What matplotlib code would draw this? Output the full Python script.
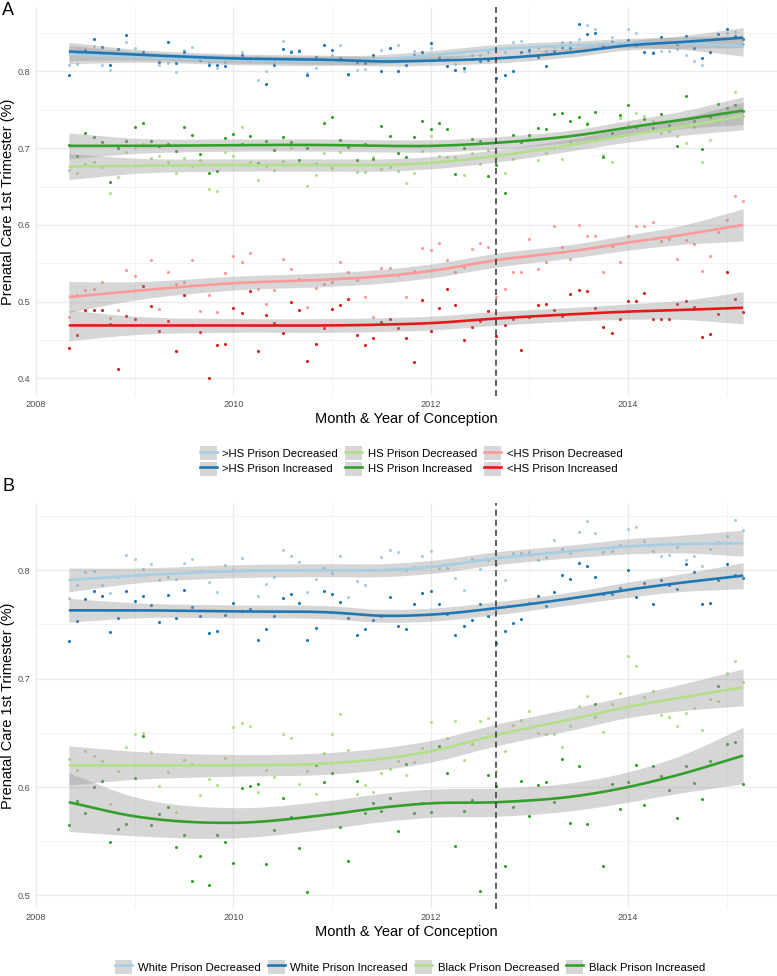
"""Prenatal care in the 1st trimester by month of conception, split by prison-admission change."""

import matplotlib

matplotlib.use("Agg")
import matplotlib.pyplot as plt
import numpy as np
from matplotlib.legend_handler import HandlerTuple
from matplotlib.lines import Line2D
from matplotlib.patches import Patch

FIG_W, FIG_H = 777, 976
DPI = 100

# monthly conception dates, May 2008 .. Mar 2015
START_YEAR = 2008 + 4 / 12
N_MONTHS = 83
POLICY_DATE = 2012 + 8 / 12

LIGHT_BLUE, DARK_BLUE = "#A6CEE3", "#1F78B4"
LIGHT_GREEN, DARK_GREEN = "#B2DF8A", "#33A02C"
LIGHT_RED, DARK_RED = "#FB9A99", "#E31A1C"
BAND = "#999999"
KEY_FILL = "#D6D6D6"

# ---- panel A: education groups (monthly points) ----
a_gt_hs_dec = [
    0.808, 0.810, 0.828, 0.833, 0.809, 0.802, 0.822, 0.838, 0.830, 0.823,
    0.822, 0.808, 0.811, 0.799, 0.828, 0.832, 0.815, 0.811, 0.804, 0.812,
    0.819, 0.825, 0.817, 0.789, 0.800, 0.812, 0.840, 0.827, 0.828, 0.798,
    0.804, 0.816, 0.822, 0.835, 0.795, 0.802, 0.803, 0.818, 0.828, 0.831,
    0.835, 0.819, 0.827, 0.822, 0.831, 0.820, 0.816, 0.810, 0.800, 0.821,
    0.821, 0.826, 0.818, 0.826, 0.838, 0.840, 0.826, 0.830, 0.827, 0.832,
    0.838, 0.838, 0.842, 0.861, 0.855, 0.832, 0.845, 0.836, 0.855, 0.850,
    0.838, 0.825, 0.827, 0.827, 0.829, 0.821, 0.813, 0.808, 0.826, 0.834,
    0.850, 0.851, 0.836,
]
a_gt_hs_inc = [
    0.795, 0.823, 0.828, 0.842, 0.832, 0.809, 0.829, 0.847, 0.820, 0.825,
    0.821, 0.812, 0.838, 0.811, 0.826, 0.818, 0.815, 0.809, 0.809, 0.807,
    0.817, 0.821, 0.815, 0.818, 0.784, 0.808, 0.829, 0.826, 0.827, 0.795,
    0.819, 0.834, 0.828, 0.818, 0.797, 0.812, 0.811, 0.821, 0.800, 0.830,
    0.801, 0.808, 0.822, 0.825, 0.837, 0.818, 0.807, 0.802, 0.805, 0.816,
    0.814, 0.815, 0.792, 0.796, 0.800, 0.825, 0.828, 0.819, 0.807, 0.827,
    0.832, 0.830, 0.862, 0.849, 0.850, 0.833, 0.838, 0.836, 0.841, 0.835,
    0.825, 0.824, 0.845, 0.838, 0.836, 0.846, 0.830, 0.818, 0.825, 0.849,
    0.855, 0.846, 0.842,
]
a_hs_dec = [
    0.671, 0.668, 0.680, 0.682, 0.676, 0.642, 0.663, 0.695, 0.700, 0.706,
    0.687, 0.690, 0.682, 0.667, 0.687, 0.677, 0.684, 0.647, 0.644, 0.695,
    0.690, 0.727, 0.682, 0.659, 0.677, 0.671, 0.683, 0.700, 0.680, 0.651,
    0.665, 0.694, 0.674, 0.695, 0.702, 0.669, 0.669, 0.688, 0.673, 0.675,
    0.670, 0.654, 0.668, 0.696, 0.716, 0.690, 0.688, 0.688, 0.665, 0.694,
    0.680, 0.697, 0.688, 0.668, 0.686, 0.709, 0.716, 0.685, 0.694, 0.700,
    0.686, 0.708, 0.707, 0.733, 0.712, 0.691, 0.682, 0.739, 0.730, 0.746,
    0.742, 0.736, 0.720, 0.722, 0.716, 0.707, 0.728, 0.682, 0.711, 0.735,
    0.745, 0.773, 0.742,
]
a_hs_inc = [
    0.704, 0.690, 0.720, 0.714, 0.708, 0.656, 0.700, 0.710, 0.728, 0.733,
    0.710, 0.703, 0.706, 0.696, 0.727, 0.717, 0.693, 0.668, 0.670, 0.713,
    0.719, 0.705, 0.716, 0.681, 0.710, 0.697, 0.714, 0.708, 0.685, 0.700,
    0.680, 0.733, 0.741, 0.711, 0.702, 0.684, 0.705, 0.686, 0.729, 0.716,
    0.694, 0.689, 0.715, 0.735, 0.725, 0.733, 0.725, 0.666, 0.700, 0.712,
    0.709, 0.664, 0.678, 0.642, 0.717, 0.708, 0.717, 0.726, 0.725, 0.745,
    0.746, 0.736, 0.740, 0.731, 0.747, 0.688, 0.720, 0.743, 0.756, 0.727,
    0.738, 0.726, 0.745, 0.730, 0.703, 0.768, 0.735, 0.699, 0.740, 0.758,
    0.753, 0.756, 0.748,
]
a_lt_hs_dec = [
    0.480, 0.509, 0.515, 0.516, 0.525, 0.479, 0.489, 0.541, 0.534, 0.521,
    0.554, 0.490, 0.538, 0.523, 0.525, 0.554, 0.488, 0.508, 0.487, 0.537,
    0.560, 0.552, 0.564, 0.516, 0.497, 0.515, 0.555, 0.542, 0.530, 0.493,
    0.518, 0.523, 0.525, 0.551, 0.539, 0.528, 0.506, 0.480, 0.544, 0.544,
    0.535, 0.506, 0.540, 0.570, 0.567, 0.577, 0.554, 0.538, 0.545, 0.568,
    0.576, 0.571, 0.506, 0.516, 0.538, 0.539, 0.582, 0.543, 0.552, 0.598,
    0.571, 0.555, 0.600, 0.585, 0.585, 0.538, 0.573, 0.552, 0.585, 0.599,
    0.599, 0.604, 0.579, 0.581, 0.555, 0.580, 0.575, 0.540, 0.559, 0.591,
    0.606, 0.638, 0.631,
]
a_lt_hs_inc = [
    0.440, 0.457, 0.489, 0.489, 0.489, 0.471, 0.412, 0.481, 0.478, 0.520,
    0.494, 0.462, 0.475, 0.435, 0.509, 0.470, 0.461, 0.400, 0.444, 0.445,
    0.492, 0.485, 0.514, 0.436, 0.482, 0.472, 0.459, 0.500, 0.489, 0.422,
    0.445, 0.466, 0.491, 0.495, 0.503, 0.456, 0.443, 0.453, 0.473, 0.478,
    0.465, 0.453, 0.421, 0.502, 0.462, 0.492, 0.516, 0.495, 0.450, 0.467,
    0.475, 0.488, 0.455, 0.469, 0.477, 0.437, 0.480, 0.495, 0.497, 0.489,
    0.481, 0.510, 0.515, 0.514, 0.492, 0.467, 0.459, 0.478, 0.501, 0.501,
    0.511, 0.477, 0.477, 0.478, 0.497, 0.501, 0.493, 0.454, 0.458, 0.484,
    0.538, 0.503, 0.487,
]

# ---- panel B: race groups (monthly points) ----
b_white_dec = [
    0.774, 0.786, 0.798, 0.799, 0.786, 0.779, 0.794, 0.814, 0.810, 0.801,
    0.806, 0.791, 0.794, 0.792, 0.807, 0.810, 0.799, 0.789, 0.780, 0.805,
    0.800, 0.811, 0.800, 0.776, 0.787, 0.794, 0.819, 0.813, 0.808, 0.780,
    0.792, 0.802, 0.797, 0.813, 0.775, 0.790, 0.786, 0.800, 0.812, 0.819,
    0.817, 0.800, 0.803, 0.813, 0.818, 0.802, 0.802, 0.793, 0.782, 0.810,
    0.801, 0.809, 0.805, 0.791, 0.816, 0.816, 0.817, 0.809, 0.812, 0.828,
    0.820, 0.816, 0.835, 0.845, 0.834, 0.817, 0.818, 0.823, 0.838, 0.840,
    0.827, 0.818, 0.813, 0.814, 0.821, 0.809, 0.813, 0.804, 0.820, 0.826,
    0.832, 0.846, 0.837,
]
b_white_inc = [
    0.735, 0.753, 0.773, 0.781, 0.776, 0.743, 0.756, 0.781, 0.772, 0.776,
    0.768, 0.752, 0.777, 0.756, 0.782, 0.766, 0.758, 0.742, 0.744, 0.759,
    0.770, 0.762, 0.764, 0.736, 0.746, 0.758, 0.774, 0.778, 0.770, 0.736,
    0.747, 0.781, 0.778, 0.771, 0.756, 0.740, 0.746, 0.754, 0.758, 0.775,
    0.749, 0.746, 0.769, 0.779, 0.781, 0.769, 0.760, 0.740, 0.749, 0.754,
    0.769, 0.758, 0.733, 0.744, 0.751, 0.755, 0.770, 0.776, 0.767, 0.780,
    0.796, 0.792, 0.807, 0.804, 0.794, 0.778, 0.778, 0.784, 0.800, 0.775,
    0.788, 0.769, 0.791, 0.786, 0.783, 0.806, 0.798, 0.769, 0.770, 0.791,
    0.806, 0.796, 0.793,
]
b_black_dec = [
    0.626, 0.616, 0.633, 0.629, 0.624, 0.584, 0.615, 0.637, 0.649, 0.650,
    0.632, 0.601, 0.614, 0.577, 0.625, 0.621, 0.593, 0.607, 0.602, 0.627,
    0.655, 0.659, 0.656, 0.595, 0.616, 0.609, 0.649, 0.645, 0.603, 0.615,
    0.594, 0.631, 0.649, 0.667, 0.634, 0.594, 0.602, 0.595, 0.613, 0.617,
    0.624, 0.611, 0.623, 0.636, 0.660, 0.637, 0.645, 0.661, 0.625, 0.640,
    0.661, 0.664, 0.615, 0.633, 0.657, 0.662, 0.670, 0.650, 0.649, 0.649,
    0.637, 0.656, 0.675, 0.684, 0.665, 0.651, 0.677, 0.687, 0.721, 0.712,
    0.683, 0.689, 0.666, 0.665, 0.656, 0.668, 0.673, 0.653, 0.681, 0.679,
    0.705, 0.716, 0.697,
]
b_black_inc = [
    0.565, 0.587, 0.576, 0.600, 0.606, 0.549, 0.561, 0.566, 0.608, 0.647,
    0.565, 0.575, 0.582, 0.545, 0.556, 0.513, 0.536, 0.510, 0.556, 0.549,
    0.530, 0.599, 0.601, 0.603, 0.529, 0.560, 0.590, 0.572, 0.544, 0.503,
    0.620, 0.605, 0.613, 0.563, 0.532, 0.606, 0.576, 0.585, 0.578, 0.590,
    0.559, 0.621, 0.576, 0.585, 0.577, 0.638, 0.613, 0.546, 0.578, 0.588,
    0.504, 0.611, 0.601, 0.527, 0.582, 0.606, 0.573, 0.602, 0.605, 0.586,
    0.626, 0.567, 0.619, 0.566, 0.677, 0.527, 0.603, 0.580, 0.605, 0.620,
    0.583, 0.619, 0.610, 0.597, 0.571, 0.619, 0.604, 0.589, 0.624, 0.693,
    0.640, 0.642, 0.603,
]

# ---- loess fits: knot years, fitted value, CI half-width ----
FIT_YEARS = [2008.333, 2009.0, 2010.0, 2011.0, 2011.5, 2012.0, 2012.667,
             2013.5, 2014.0, 2014.5, 2015.167]

fit_a_gt_hs_dec = [0.822, 0.819, 0.815, 0.814, 0.816, 0.821, 0.829, 0.834, 0.837, 0.837, 0.833]
fit_a_gt_hs_inc = [0.826, 0.822, 0.817, 0.815, 0.813, 0.814, 0.817, 0.826, 0.834, 0.838, 0.844]
fit_a_hs_dec = [0.676, 0.677, 0.678, 0.678, 0.678, 0.681, 0.690, 0.706, 0.717, 0.727, 0.742]
fit_a_hs_inc = [0.703, 0.703, 0.704, 0.704, 0.703, 0.703, 0.707, 0.717, 0.727, 0.736, 0.749]
fit_a_lt_hs_dec = [0.506, 0.514, 0.524, 0.529, 0.533, 0.540, 0.554, 0.567, 0.577, 0.586, 0.600]
fit_a_lt_hs_inc = [0.469, 0.469, 0.469, 0.469, 0.470, 0.472, 0.478, 0.484, 0.487, 0.489, 0.492]

se_a_blue = [0.012, 0.007, 0.006, 0.006, 0.006, 0.006, 0.006, 0.006, 0.006, 0.008, 0.013]
se_a_green = [0.017, 0.010, 0.008, 0.008, 0.008, 0.008, 0.008, 0.008, 0.009, 0.011, 0.018]
se_a_red = [0.020, 0.012, 0.009, 0.009, 0.009, 0.009, 0.009, 0.009, 0.010, 0.012, 0.021]

fit_b_white_dec = [0.791, 0.795, 0.799, 0.800, 0.800, 0.803, 0.811, 0.818, 0.822, 0.824, 0.825]
fit_b_white_inc = [0.763, 0.763, 0.762, 0.761, 0.758, 0.759, 0.765, 0.775, 0.782, 0.788, 0.795]
fit_b_black_dec = [0.620, 0.620, 0.620, 0.622, 0.626, 0.633, 0.648, 0.664, 0.674, 0.682, 0.692]
fit_b_black_inc = [0.586, 0.573, 0.567, 0.575, 0.581, 0.585, 0.586, 0.592, 0.600, 0.611, 0.629]

se_b_white = [0.011, 0.007, 0.006, 0.006, 0.006, 0.006, 0.006, 0.006, 0.007, 0.008, 0.012]
se_b_black_dec = [0.018, 0.013, 0.010, 0.010, 0.010, 0.010, 0.010, 0.010, 0.010, 0.012, 0.017]
se_b_black_inc = [0.027, 0.018, 0.014, 0.013, 0.013, 0.013, 0.013, 0.013, 0.014, 0.017, 0.026]

LABELS_A = [">HS Prison Decreased", ">HS Prison Increased", "HS Prison Decreased",
            "HS Prison Increased", "<HS Prison Decreased", "<HS Prison Increased"]
LABELS_B = ["White Prison Decreased", "White Prison Increased",
            "Black Prison Decreased", "Black Prison Increased"]

XTICKS = [2008, 2010, 2012, 2014]
XMINOR = [2009, 2011, 2013, 2015]


def px_box(left, top, right, bottom):
    """Axes rectangle from pixel edges (top-left origin)."""
    return [left / FIG_W, 1 - bottom / FIG_H, (right - left) / FIG_W, (bottom - top) / FIG_H]


def hermite(xk, yk, n=240):
    """Smooth cubic curve through the fit knots, only for drawing."""
    xk = np.asarray(xk, float)
    yk = np.asarray(yk, float)
    slopes = np.gradient(yk, xk)
    x = np.linspace(xk[0], xk[-1], n)
    i = np.clip(np.searchsorted(xk, x, side="right") - 1, 0, len(xk) - 2)
    h = xk[i + 1] - xk[i]
    t = (x - xk[i]) / h
    h00 = 2 * t**3 - 3 * t**2 + 1
    h10 = t**3 - 2 * t**2 + t
    h01 = -2 * t**3 + 3 * t**2
    h11 = t**3 - t**2
    y = h00 * yk[i] + h10 * h * slopes[i] + h01 * yk[i + 1] + h11 * h * slopes[i + 1]
    return x, y


def style_axes(ax, ylim, yticks, yminor):
    ax.set_xlim(2007.99, 2015.51)
    ax.set_ylim(*ylim)
    ax.set_xticks(XTICKS)
    ax.set_xticks(XMINOR, minor=True)
    ax.set_yticks(yticks)
    ax.set_yticks(yminor, minor=True)
    ax.set_xticklabels([str(t) for t in XTICKS])
    ax.set_yticklabels([f"{t:g}" for t in yticks])
    ax.grid(which="major", color="#EBEBEB", lw=1.0)
    ax.grid(which="minor", color="#F0F0F0", lw=0.55)
    ax.set_axisbelow(True)
    for spine in ax.spines.values():
        spine.set_visible(False)
    ax.tick_params(which="both", length=0, labelsize=6.6, labelcolor="#4D4D4D")
    ax.tick_params(axis="x", pad=3.2)
    ax.tick_params(axis="y", pad=3.5)
    ax.axvline(POLICY_DATE, color="#333333", lw=1.1, ls=(0, (4, 2.6)), zorder=6)


def draw_panel(ax, series):
    months = START_YEAR + np.arange(N_MONTHS) / 12
    for _, color, pts, _, _ in series:
        ax.scatter(months, pts, s=5, color=color, linewidths=0, zorder=2)
    for _, color, _, fit, se in series:
        xs, ys = hermite(FIT_YEARS, fit)
        _, es = hermite(FIT_YEARS, se)
        ax.fill_between(xs, ys - es, ys + es, color=BAND, alpha=0.4,
                        linewidth=0, zorder=3)
        ax.plot(xs, ys, color=color, lw=1.9, solid_capstyle="butt", zorder=4)


def add_legend(fig, series, ncol, center):
    handles = [(Patch(facecolor=KEY_FILL, edgecolor="none"), Line2D([], [], color=c, lw=1.9))
               for _, c, _, _, _ in series]
    labels = [s[0] for s in series]
    fig.legend(handles, labels, loc="center",
               bbox_to_anchor=(center[0] / FIG_W, 1 - center[1] / FIG_H),
               ncol=ncol, frameon=False, fontsize=8.2, borderpad=0,
               handlelength=1.5, handleheight=1.5, handletextpad=0.5,
               columnspacing=0.6, labelspacing=0.12,
               handler_map={tuple: HandlerTuple(ndivide=1)})


def main() -> None:
    plt.rcParams["font.family"] = ["Liberation Sans", "DejaVu Sans"]

    series_a = [
        (LABELS_A[0], LIGHT_BLUE, a_gt_hs_dec, fit_a_gt_hs_dec, se_a_blue),
        (LABELS_A[1], DARK_BLUE, a_gt_hs_inc, fit_a_gt_hs_inc, se_a_blue),
        (LABELS_A[2], LIGHT_GREEN, a_hs_dec, fit_a_hs_dec, se_a_green),
        (LABELS_A[3], DARK_GREEN, a_hs_inc, fit_a_hs_inc, se_a_green),
        (LABELS_A[4], LIGHT_RED, a_lt_hs_dec, fit_a_lt_hs_dec, se_a_red),
        (LABELS_A[5], DARK_RED, a_lt_hs_inc, fit_a_lt_hs_inc, se_a_red),
    ]
    series_b = [
        (LABELS_B[0], LIGHT_BLUE, b_white_dec, fit_b_white_dec, se_b_white),
        (LABELS_B[1], DARK_BLUE, b_white_inc, fit_b_white_inc, se_b_white),
        (LABELS_B[2], LIGHT_GREEN, b_black_dec, fit_b_black_dec, se_b_black_dec),
        (LABELS_B[3], DARK_GREEN, b_black_inc, fit_b_black_inc, se_b_black_inc),
    ]

    fig = plt.figure(figsize=(FIG_W / DPI, FIG_H / DPI), dpi=DPI)

    ax_a = fig.add_axes(px_box(35, 7, 777, 396))
    draw_panel(ax_a, series_a)
    style_axes(ax_a, (0.377, 0.884), [0.4, 0.5, 0.6, 0.7, 0.8],
               [0.45, 0.55, 0.65, 0.75, 0.85])

    ax_b = fig.add_axes(px_box(35, 503, 777, 909))
    draw_panel(ax_b, series_b)
    style_axes(ax_b, (0.4875, 0.862), [0.5, 0.6, 0.7, 0.8], [0.55, 0.65, 0.75, 0.85])

    ylabel = "Prenatal Care 1st Trimester (%)"
    xlabel = "Month & Year of Conception"
    for top, bottom, xlab_y in [(7, 396, 419), (503, 909, 932)]:
        fig.text(8 / FIG_W, 1 - (top + bottom) / 2 / FIG_H, ylabel, rotation=90,
                 ha="center", va="center", fontsize=10.5)
        fig.text(406 / FIG_W, 1 - xlab_y / FIG_H, xlabel, ha="center", va="center",
                 fontsize=10.5)

    fig.text(2 / FIG_W, 1 - 15 / FIG_H, "A", ha="left", va="baseline", fontsize=13)
    fig.text(2 / FIG_W, 1 - 491 / FIG_H, "B", ha="left", va="baseline", fontsize=13)

    add_legend(fig, series_a, 3, (411, 461))
    add_legend(fig, series_b, 4, (410, 967))

    fig.savefig("out.png", dpi=DPI)


if __name__ == "__main__":
    main()
